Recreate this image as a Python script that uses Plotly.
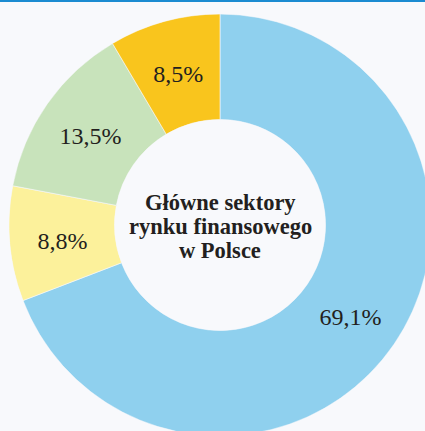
import plotly.graph_objects as go

sectors = ["Banki", "Ubezpieczenia", "Fundusze", "Inne"]
shares = [69.1, 8.8, 13.5, 8.5]
colors = ["#8fd0ee", "#fcf19b", "#c8e3bb", "#f9c51d"]
center_lines = ["Główne sektory", "rynku finansowego", "w Polsce"]

W, H = 440, 450
BG = "#f8f9fc"
HOLE = 0.50
DOM = dict(x=[0.0205, 0.9795], y=[0, 1])
DOM_TXT = dict(x=[0.0205, 0.9795], y=[0, 1 - 8 / H])
SERIF = "Liberation Serif"

total = sum(shares)
mids, widths, acc = [], [], 0.0
for s in shares:
    mids.append((acc + s / 2) / total * 360)
    widths.append(s / total * 360)
    acc += s
labels = [f"{s:.1f}%".replace(".", ",") for s in shares]

fig = go.Figure()
fig.add_trace(go.Barpolar(
    r=[1] * len(shares),
    theta=mids,
    width=widths,
    marker=dict(color=colors, line=dict(color=BG, width=0.6)),
    hoverinfo="skip",
    showlegend=False,
    subplot="polar",
))
fig.add_trace(go.Scatterpolar(
    r=[0.5] * len(shares),
    theta=mids,
    mode="text",
    text=labels,
    textposition="middle center",
    textfont=dict(family=SERIF, size=24, color="#231f20", weight="normal"),
    hoverinfo="skip",
    showlegend=False,
    subplot="polar2",
))

polar_common = dict(
    hole=HOLE,
    bgcolor="rgba(0,0,0,0)",
    radialaxis=dict(range=[0, 1], visible=False, showgrid=False),
    angularaxis=dict(visible=False, showgrid=False, rotation=90,
                     direction="clockwise"),
    bargap=0,
)
fig.update_layout(
    polar=dict(domain=DOM, **polar_common),
    polar2=dict(domain=DOM_TXT, **polar_common),
)

ys = [202, 226, 250]
for line, py in zip(center_lines, ys):
    fig.add_annotation(
        x=0.5, y=1 - py / H, xref="paper", yref="paper",
        text=f"<b>{line}</b>", showarrow=False,
        font=dict(family=SERIF, size=22.5, color="#231f20"),
        xanchor="center", yanchor="middle",
    )

fig.add_shape(type="rect", xref="paper", yref="paper",
              x0=0, x1=1, y0=1 - 2 / H, y1=1,
              line=dict(width=0), fillcolor="#1b8bd1")

fig.update_layout(
    width=W, height=H,
    margin=dict(l=0, r=0, t=0, b=0),
    paper_bgcolor=BG, plot_bgcolor=BG,
    font=dict(family=SERIF, color="#231f20"),
)

fig.write_html(
    "out.html",
    config={"displayModeBar": False},
    post_script="document.documentElement.style.overflow='hidden';"
                "document.body.style.overflow='hidden';"
                "document.body.style.margin='0';",
)
